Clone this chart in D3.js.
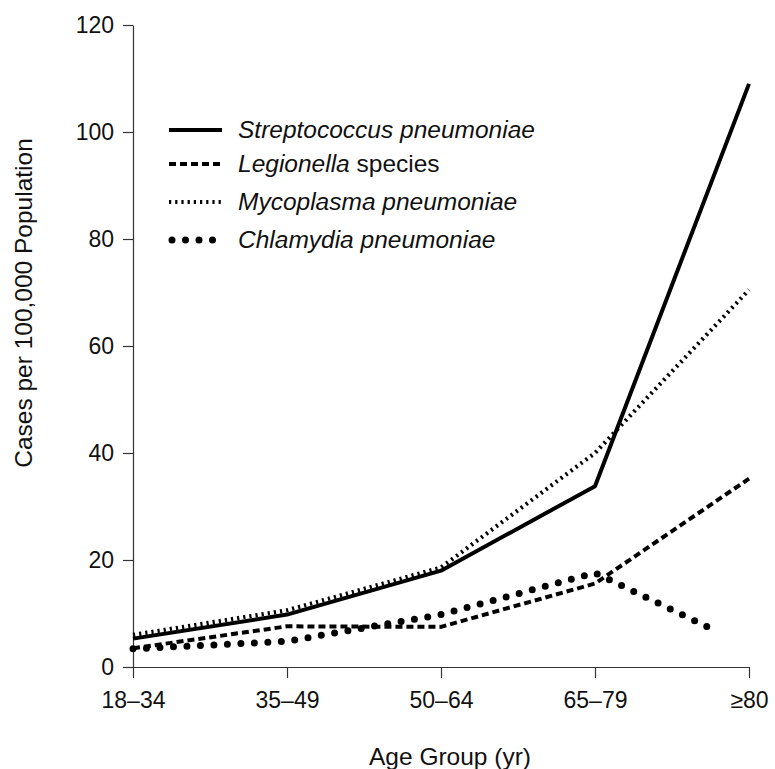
<!DOCTYPE html>
<meta charset="utf-8">
<style>
body { margin: 0; background: #fff; }
svg text { font-family: "Liberation Sans", Arial, sans-serif; fill: #111; }
.axis path, .axis line { stroke: #333; stroke-width: 1.2; }
.axis text { font-size: 23px; }
.line { fill: none; stroke: #000; }
</style>
<body>
<svg width="775" height="769"></svg>
<script src="https://d3js.org/d3.v7.min.js"></script>
<script>
// data
var ageGroups = ["18\u201334", "35\u201349", "50\u201364", "65\u201379", "\u226580"];
var yTicks = [0, 20, 40, 60, 80, 100, 120];

var strepValues = [5.3, 9.8, 18, 33.8, 109];
var legionValues = [3.5, 7.6, 7.5, 15.6, 35.2];
var mycoValues = [6, 10.6, 18.6, 40, 70.5];
// chlamydia line stops short of the last group
var chlamPos = [0, 1, 2, 3, 3.76];
var chlamValues = [3.4, 4.8, 9.8, 17.6, 7.1];

var svg = d3.select("svg");

var x = d3.scaleLinear().domain([0, ageGroups.length - 1]).range([133, 749]),
    y = d3.scaleLinear().domain([0, 120]).range([667, 25]);

// axes
svg.append("g")
    .attr("class", "axis axis--y")
    .attr("transform", "translate(" + x.range()[0] + ",0)")
    .call(d3.axisLeft(y).tickValues(yTicks).tickSize(10).tickSizeOuter(0).tickPadding(9));

svg.append("g")
    .attr("class", "axis axis--x")
    .attr("transform", "translate(0," + y(0) + ")")
    .call(d3.axisBottom(x).tickValues(d3.range(ageGroups.length))
      .tickFormat(function(i) { return ageGroups[i]; })
      .tickSize(11).tickSizeOuter(0).tickPadding(14));

// axis titles
svg.append("text")
    .attr("x", 450)
    .attr("y", 765)
    .attr("text-anchor", "middle")
    .style("font-size", "24.5px")
    .text("Age Group (yr)");

svg.append("text")
    .attr("transform", "translate(32,303) rotate(-90)")
    .attr("text-anchor", "middle")
    .style("font-size", "24.5px")
    .text("Cases per 100,000 Population");

// series
var series = [
  { name: "Streptococcus", rest: " pneumoniae", italicRest: true, pos: d3.range(5), values: strepValues, dash: null, width: 4, cap: "butt" },
  { name: "Legionella", rest: " species", italicRest: false, pos: d3.range(5), values: legionValues, dash: "7 4", width: 4, cap: "butt" },
  { name: "Mycoplasma", rest: " pneumoniae", italicRest: true, pos: d3.range(5), values: mycoValues, dash: "2.2 4", width: 4.2, cap: "butt" },
  { name: "Chlamydia", rest: " pneumoniae", italicRest: true, pos: chlamPos, values: chlamValues, dash: "0 13.5", width: 7, cap: "round" }
];

var line = d3.line()
    .x(function(d) { return x(d[0]); })
    .y(function(d) { return y(d[1]); });

series.forEach(function(s) {
  svg.append("path")
      .datum(d3.zip(s.pos, s.values))
      .attr("class", "line")
      .attr("d", line)
      .attr("stroke-width", s.width)
      .attr("stroke-dasharray", s.dash)
      .attr("stroke-linecap", s.cap)
      .attr("stroke-linejoin", "round");
});

// legend
var legendY = [130, 164, 202, 240];
var legend = svg.append("g");
series.forEach(function(s, i) {
  var row = legend.append("g").attr("transform", "translate(0," + legendY[i] + ")");
  row.append("line")
      .attr("x1", s.cap === "round" ? 172 : 169).attr("x2", s.cap === "round" ? 219 : 222)
      .attr("stroke", "#000")
      .attr("stroke-width", s.width)
      .attr("stroke-dasharray", s.dash)
      .attr("stroke-linecap", s.cap);
  var t = row.append("text")
      .attr("x", 238)
      .attr("y", 8)
      .style("font-size", "24.5px");
  t.append("tspan").style("font-style", "italic").text(s.name);
  t.append("tspan").style("font-style", s.italicRest ? "italic" : "normal").text(s.rest);
});
</script>
</body>
